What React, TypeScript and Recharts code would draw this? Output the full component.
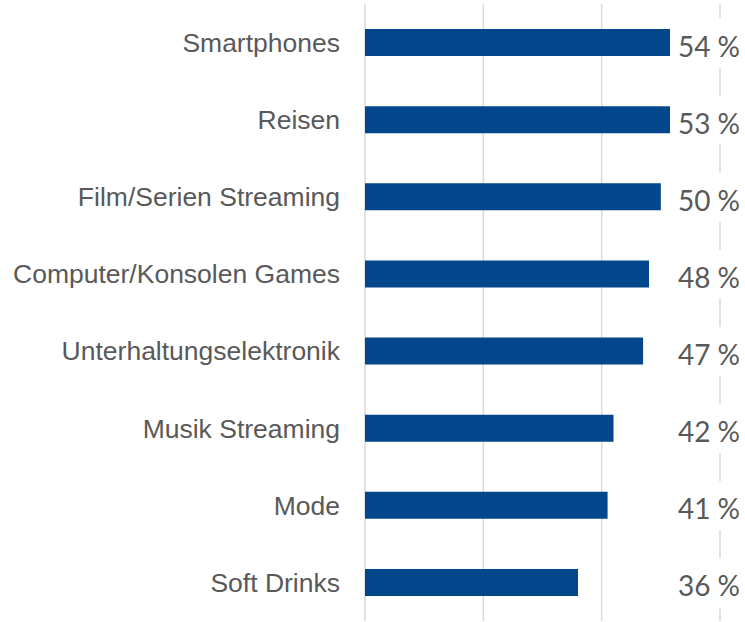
import { BarChart, Bar, XAxis, YAxis, CartesianGrid, LabelList } from "recharts";

const categories = [
  "Smartphones",
  "Reisen",
  "Film/Serien Streaming",
  "Computer/Konsolen Games",
  "Unterhaltungselektronik",
  "Musik Streaming",
  "Mode",
  "Soft Drinks",
];
const shares = [54, 53, 50, 48, 47, 42, 41, 36];
const xTicks = [0, 20, 40, 60];

const data = categories.map((name, i) => ({ name, value: shares[i] }));

const BAR_COLOR = "#02468b";
const TEXT_COLOR = "#595959";
const LABEL_X = 709;

const ValueLabel = (props: any) => {
  const { y, height, value } = props;
  const cy = y + height / 2;
  return (
    <g>
      <rect x={LABEL_X - 39} y={cy - 24} width={80} height={49} fill="#ffffff" />
      <text
        x={LABEL_X}
        y={cy + 3}
        textAnchor="middle"
        dominantBaseline="central"
        fontFamily="Lato, 'Open Sans', sans-serif"
        fontSize={28}
        fill={TEXT_COLOR}
      >
        {`${value} %`}
      </text>
    </g>
  );
};

const App = () => {
  return (
    <div style={{ position: "absolute", top: 0, left: 0, width: 745, height: 622, background: "#fff" }}>
      <BarChart
        width={745}
        height={622}
        data={data}
        layout="vertical"
        margin={{ top: 4, right: 25, bottom: 1, left: 0 }}
        barCategoryGap={0}
      >
        <CartesianGrid horizontal={false} stroke="#d9d9d9" strokeWidth={1.5} />
        <XAxis type="number" domain={[0, 60]} ticks={xTicks} hide />
        <YAxis
          type="category"
          dataKey="name"
          width={365}
          axisLine={false}
          tickLine={false}
          tickMargin={19}
          interval={0}
          tick={{ fontSize: 26.5, fill: TEXT_COLOR, fontFamily: "'Liberation Sans', Arial, sans-serif" }}
        />
        <Bar dataKey="value" fill={BAR_COLOR} barSize={27} isAnimationActive={false}>
          <LabelList dataKey="value" content={<ValueLabel />} />
        </Bar>
      </BarChart>
    </div>
  );
};

export default App;
